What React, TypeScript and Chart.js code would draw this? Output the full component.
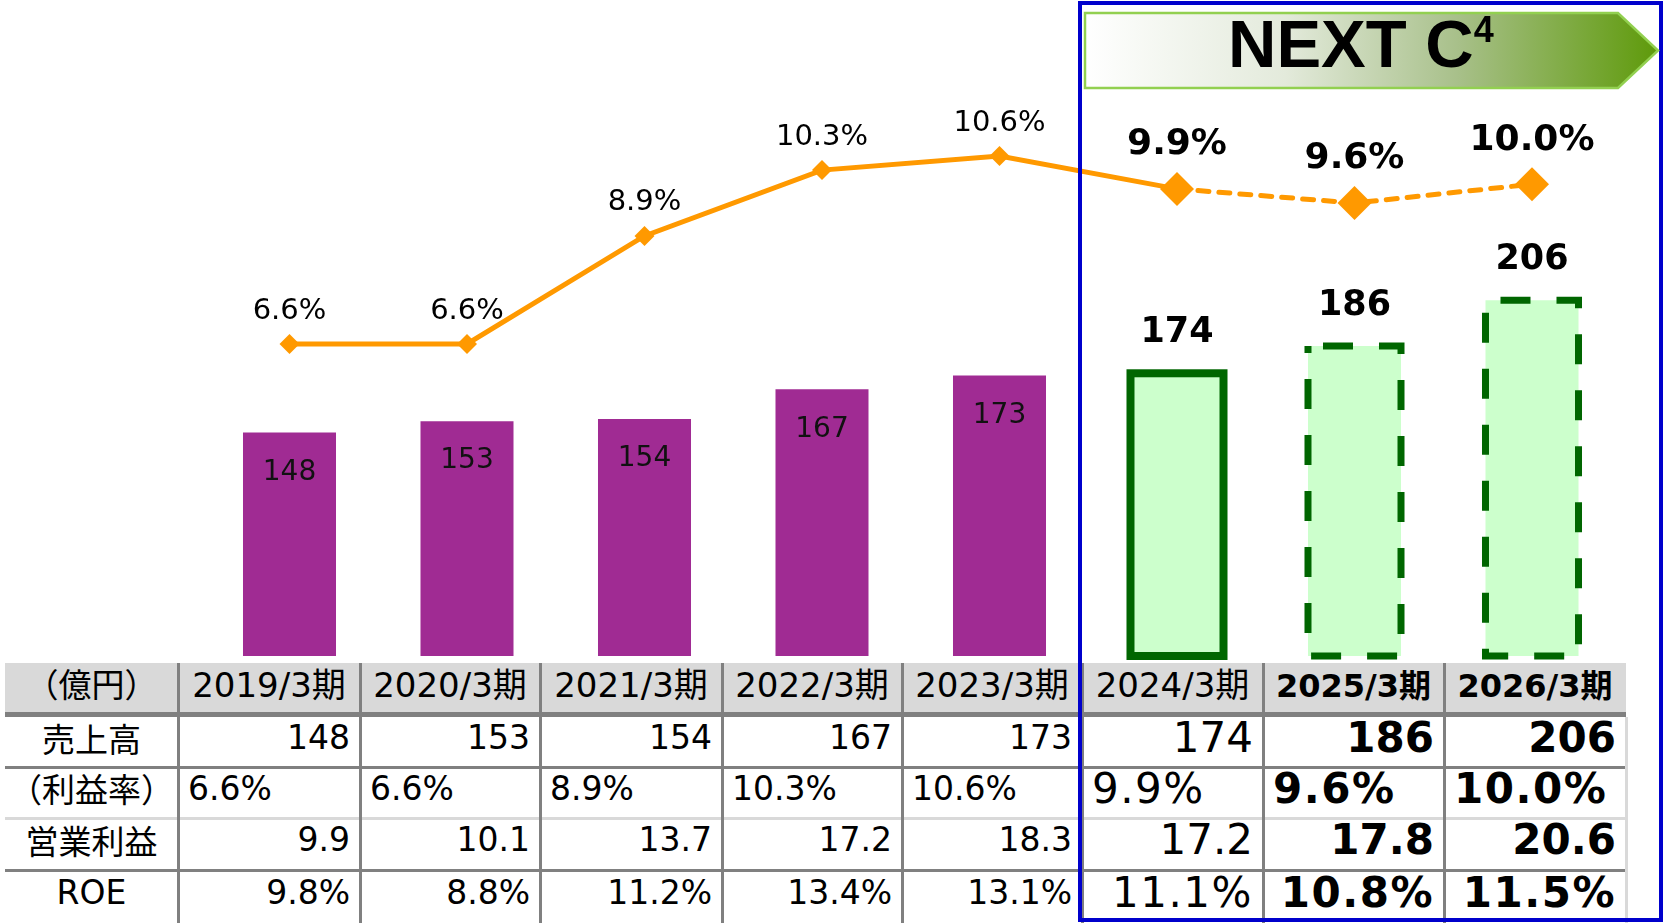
import React, { useEffect, useRef } from "react";
import { Chart, registerables } from "chart.js";

Chart.register(...registerables);

// ---- data ----
const categories = ["2019/3期", "2020/3期", "2021/3期", "2022/3期", "2023/3期", "2024/3期", "2025/3期", "2026/3期"];
const sales = [148, 153, 154, 167, 173, 174, 186, 206];
const margin = [6.6, 6.6, 8.9, 10.3, 10.6, 9.9, 9.6, 10.0];
const opProfit = [9.9, 10.1, 13.7, 17.2, 18.3, 17.2, 17.8, 20.6];
const roe = [9.8, 8.8, 11.2, 13.4, 13.1, 11.1, 10.8, 11.5];
// past = historical, actual = first NEXT C4 year, plan = targets
const periodType = ["past", "past", "past", "past", "past", "actual", "plan", "plan"];
const unitLabel = "（億円）";
const rowLabels = ["売上高", "（利益率）", "営業利益", "ROE"];
const bannerTitle = "NEXT C";
const bannerSup = "4";

// ---- styles ----
const FONT = '"DejaVu Sans", "Noto Sans CJK JP", sans-serif';
const PURPLE = "#A02B93";
const LIGHT_GREEN = "#CCFFCC";
const DARK_GREEN = "#006600";
const ORANGE = "#FF9900";
const GRID = "#808080";
const LIGHT_GRID = "#D9D9D9";

const colEdges = [5, 178, 360, 540, 722, 902, 1082, 1263, 1444, 1626];
const rowTops = [717, 767, 818, 870, 923];

const decoPlugin = {
  id: "deco",
  afterDatasetsDraw(chart: any) {
    const ctx = chart.ctx as CanvasRenderingContext2D;
    const barMeta = chart.getDatasetMeta(1);
    const lineMeta = chart.getDatasetMeta(0);
    const bottom = chart.chartArea.bottom;
    barMeta.data.forEach((bar: any, i: number) => {
      const { x, y, base, width } = bar.getProps(["x", "y", "base", "width"], true);
      const b = Math.min(base, bottom);
      const left = x - width / 2;
      const t = periodType[i];
      ctx.save();
      if (t !== "past") {
        ctx.strokeStyle = DARK_GREEN;
        ctx.lineJoin = "miter";
        if (t === "actual") {
          ctx.lineWidth = 8;
          ctx.setLineDash([]);
        } else {
          ctx.lineWidth = 7;
          ctx.setLineDash([30, 26]);
          ctx.lineDashOffset = 41;
        }
        ctx.strokeRect(left, y, width, b - y);
        ctx.setLineDash([]);
      }
      ctx.textAlign = "center";
      ctx.textBaseline = "middle";
      if (t === "past") {
        ctx.fillStyle = "#111";
        ctx.font = `28px ${FONT}`;
        ctx.fillText(String(sales[i]), x, y + 40);
      } else {
        ctx.fillStyle = "#000";
        ctx.font = `bold 35px ${FONT}`;
        ctx.fillText(String(sales[i]), x, y - 40);
      }
      ctx.restore();
    });
    lineMeta.data.forEach((pt: any, i: number) => {
      const { x, y } = pt.getProps(["x", "y"], true);
      const t = periodType[i];
      ctx.save();
      ctx.textAlign = "center";
      ctx.textBaseline = "middle";
      ctx.fillStyle = "#000";
      const txt = margin[i].toFixed(1) + "%";
      if (t === "past") {
        ctx.font = `29px ${FONT}`;
        ctx.fillText(txt, x, y - 33);
      } else {
        ctx.font = `bold 36px ${FONT}`;
        ctx.fillText(txt, x, y - 44);
      }
      ctx.restore();
    });
  },
};

function Table() {
  const rows = [
    { vals: sales.map((v) => String(v)), align: "right" },
    { vals: margin.map((v) => v.toFixed(1) + "%"), align: "left" },
    { vals: opProfit.map((v) => v.toFixed(1)), align: "right" },
    { vals: roe.map((v) => v.toFixed(1) + "%"), align: "right" },
  ];
  const cells: any[] = [];
  const W = colEdges[9] - colEdges[0];
  cells.push(<div key="bg" style={{ position: "absolute", left: colEdges[0], top: 717, width: W, height: 923 - 717, background: "#fff" }} />);
  cells.push(<div key="hbg" style={{ position: "absolute", left: colEdges[0], top: 663, width: W, height: 49, background: "#D9D9D9" }} />);
  cells.push(<div key="hline" style={{ position: "absolute", left: colEdges[0], top: 712, width: W, height: 5, background: GRID }} />);
  const textCell = { position: "absolute", display: "flex", alignItems: "center", boxSizing: "border-box", whiteSpace: "nowrap" } as any;
  cells.push(
    <div key="h0" style={{ ...textCell, left: colEdges[0], top: 663, width: colEdges[1] - colEdges[0], height: 49, justifyContent: "center", fontSize: 33, paddingBottom: 10 }}>
      {unitLabel}
    </div>
  );
  categories.forEach((c, i) => {
    const bold = periodType[i] === "plan";
    cells.push(
      <div key={"h" + (i + 1)} style={{ ...textCell, left: colEdges[i + 1], top: 663, width: colEdges[i + 2] - colEdges[i + 1], height: 49, justifyContent: "center", fontSize: bold ? 32 : 34, fontWeight: bold ? "bold" : "normal", paddingBottom: 10 }}>
        {c}
      </div>
    );
  });
  [767, 818, 870].forEach((yy, k) => {
    cells.push(<div key={"rl" + k} style={{ position: "absolute", left: colEdges[0], top: yy - 1.5, width: W, height: 3, background: k === 1 ? LIGHT_GRID : GRID }} />);
  });
  colEdges.slice(1).forEach((xx, k) => {
    const last = k === colEdges.length - 2;
    cells.push(
      <div key={"vl" + k} style={{ position: "absolute", left: xx - 1.5, top: last ? 717 : 663, width: 3, height: 923 - (last ? 717 : 663), background: last ? LIGHT_GRID : GRID }} />
    );
  });
  rows.forEach((r, ri) => {
    const top = rowTops[ri];
    const h = rowTops[ri + 1] - top;
    cells.push(
      <div key={"rlab" + ri} style={{ ...textCell, left: colEdges[0], top, width: colEdges[1] - colEdges[0], height: h, justifyContent: "center", fontSize: 33, paddingBottom: 9 }}>
        {rowLabels[ri]}
      </div>
    );
    r.vals.forEach((v, i) => {
      const t = periodType[i];
      const big = t !== "past";
      cells.push(
        <div key={"c" + ri + "_" + i} style={{ ...textCell, left: colEdges[i + 1], top, width: colEdges[i + 2] - colEdges[i + 1], height: h, justifyContent: r.align === "left" ? "flex-start" : "flex-end", paddingLeft: r.align === "left" ? 10 : 0, paddingRight: r.align === "left" ? 0 : 10, paddingBottom: 9, fontSize: big ? 42 : 33, fontWeight: t === "plan" ? "bold" : "normal", letterSpacing: big && v.endsWith("%") ? 1.5 : 0 }}>
          {v}
        </div>
      );
    });
  });
  return <>{cells}</>;
}

export default function App() {
  const ref = useRef<HTMLCanvasElement>(null);
  useEffect(() => {
    document.body.style.margin = "0";
    const chart = new Chart(ref.current as HTMLCanvasElement, {
      type: "bar",
      data: {
        labels: categories,
        datasets: [
          {
            type: "line",
            data: margin,
            yAxisID: "y2",
            order: 0,
            borderColor: ORANGE,
            borderWidth: 5,
            borderCapStyle: "round",
            pointStyle: "rectRot",
            pointRadius: periodType.map((t) => (t === "past" ? 10 : 17)),
            pointBackgroundColor: ORANGE,
            pointBorderColor: ORANGE,
            pointBorderWidth: 0,
            tension: 0,
            segment: {
              borderDash: (c: any) => (c.p0DataIndex >= 5 ? [11, 10] : undefined),
            },
          } as any,
          {
            type: "bar",
            data: sales,
            yAxisID: "y",
            order: 1,
            backgroundColor: periodType.map((t) => (t === "past" ? PURPLE : LIGHT_GREEN)),
            borderWidth: 0,
            barPercentage: 0.524,
            categoryPercentage: 1,
          } as any,
        ],
      },
      options: {
        animation: false,
        responsive: false,
        devicePixelRatio: 1,
        layout: { padding: { left: 200.75, right: 43.25, top: 86, bottom: 267 } },
        plugins: { legend: { display: false }, tooltip: { enabled: false } },
        scales: {
          x: { display: false, offset: true },
          y: { display: false, min: 50, max: 300 },
          y2: { display: false, min: -0.04, max: 12.09, position: "right" },
        },
      } as any,
      plugins: [decoPlugin],
    });
    return () => chart.destroy();
  }, []);

  return (
    <div style={{ position: "fixed", left: 0, top: 0, width: 1664, height: 923, background: "#fff", fontFamily: FONT, color: "#000", overflow: "hidden" }}>
      <canvas ref={ref} width={1664} height={923} style={{ position: "absolute", left: 0, top: 0, width: 1664, height: 923 }} />
      <Table />
      <div style={{ position: "absolute", left: 1078, top: 1, width: 585, height: 921, border: "4px solid #0000CC", boxSizing: "border-box" }} />
      <svg width={1664} height={923} style={{ position: "absolute", left: 0, top: 0 }}>
        <defs>
          <linearGradient id="bn" x1="0" y1="0" x2="1" y2="0">
            <stop offset="0" stopColor="#FFFFFF" />
            <stop offset="0.35" stopColor="#E3EADB" />
            <stop offset="0.65" stopColor="#A8C08A" />
            <stop offset="1" stopColor="#5E9A0A" />
          </linearGradient>
        </defs>
        <polygon points="1085,13 1618,13 1658,50.5 1618,88 1085,88" fill="url(#bn)" stroke="#92D050" strokeWidth={2.5} />
        <text x={1228} y={67} fontFamily='"Liberation Sans", Arial, sans-serif' fontWeight="bold" fontSize={67} fill="#000">
          {bannerTitle}
          <tspan fontSize={36} dy={-25}>{bannerSup}</tspan>
        </text>
      </svg>
    </div>
  );
}
